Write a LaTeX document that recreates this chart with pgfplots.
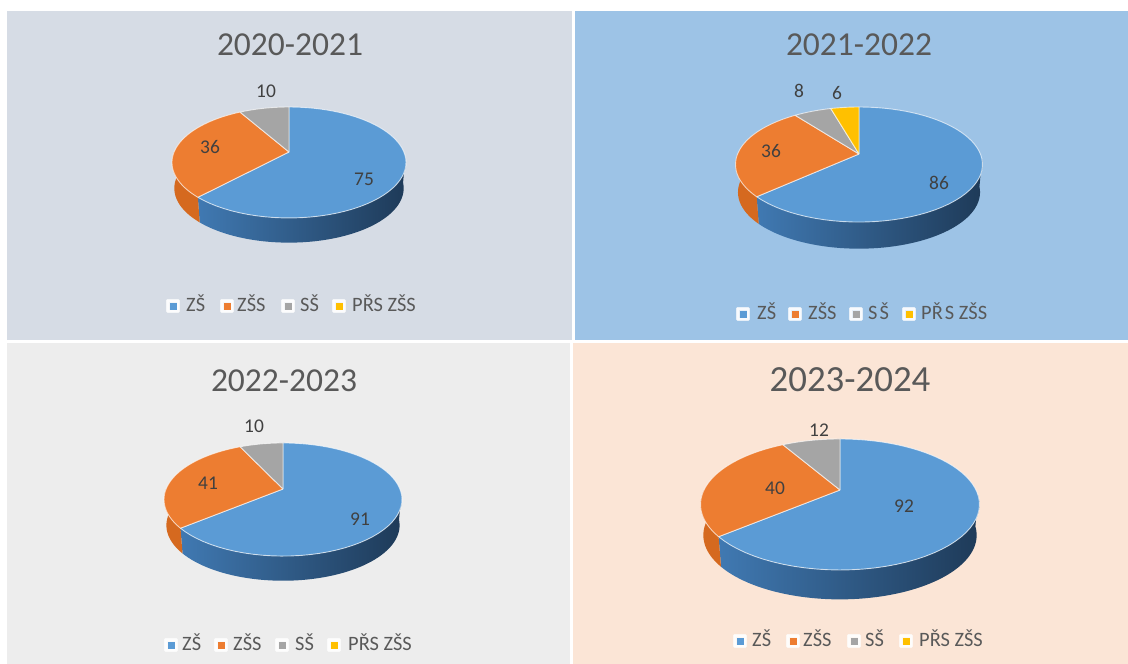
\documentclass[border=0pt]{standalone}
\usepackage{pgfplots}
\pgfplotsset{compat=1.18}
\usepackage{fontspec}
\setmainfont{Carlito}
\definecolor{tileA}{HTML}{D6DCE5}
\definecolor{tileB}{HTML}{9DC3E6}
\definecolor{tileC}{HTML}{EDEDED}
\definecolor{tileD}{HTML}{FBE5D6}
\definecolor{cblue}{HTML}{5B9BD5}
\definecolor{corange}{HTML}{ED7D31}
\definecolor{cgray}{HTML}{A5A5A5}
\definecolor{cyellow}{HTML}{FFC000}
\definecolor{rimL}{HTML}{4079B2}
\definecolor{rimM}{HTML}{2F5E8E}
\definecolor{rimR}{HTML}{1E3A58}
\definecolor{rimO}{HTML}{D5691F}
\definecolor{txtT}{HTML}{595959}
\definecolor{txtL}{HTML}{404040}
\let\myt\relax
% #1 colour, #2 start angle, #3 end angle
\newcommand{\slice}[3]{%
  \edef\ang{(#2+(#3-#2)/60*\myt)}%
  \edef\tmp{\noexpand\addplot[fill=#1,draw=white,draw opacity=0.65,line width=0.9bp,line join=round,
    variable=\myt,samples at={-1000,0,1,...,60,-1000}]
    ({\pcx+(\myt>-500)*\pA*sin(\ang)/(1+\pk*cos(\ang))},
     {\pcy-(\myt>-500)*\pB*cos(\ang)/(1+\pk*cos(\ang))});}%
  \tmp}
% #1 shading options, #2 start angle, #3 end angle
\newcommand{\rim}[3]{%
  \edef\ang{(#2+(#3-#2)/60*(\myt-1000*(\myt>=500)))}%
  \edef\fac{(1-0.02*(\myt>=500))}%
  \edef\tmp{\noexpand\addplot[draw=none,#1,
    variable=\myt,samples at={0,1,...,60,1060,1059,...,1000}]
    ({\pcx+\fac*\pA*sin(\ang)/(1+\pk*cos(\ang))},
     {\pcy-\fac*\pB*cos(\ang)/(1+\pk*cos(\ang))+(\myt>=500)*\pd});}%
  \tmp}
% cx, apex y, A, B, k, depth
\newcommand{\pgeom}[6]{\edef\pcx{#1}\edef\pcy{#2}\edef\pA{#3}\edef\pB{#4}\edef\pk{#5}\edef\pd{#6}}
% the four values
\newcommand{\threedpie}[4]{%
  \pgfmathsetmacro{\tot}{#1+#2+#3+#4}%
  \pgfmathsetmacro{\angA}{360/\tot*#1}%
  \pgfmathsetmacro{\angB}{360/\tot*(#1+#2)}%
  \pgfmathsetmacro{\angC}{360/\tot*(#1+#2+#3)}%
  \rim{left color=rimL,middle color=rimM,right color=rimR}{95}{\angA}%
  \rim{fill=rimO}{\angA}{270}%
  \slice{cblue}{0}{\angA}%
  \slice{corange}{\angA}{\angB}%
  \slice{cgray}{\angB}{\angC}%
  \ifdim #4pt>0pt \slice{cyellow}{\angC}{360}\fi
}
\newcommand{\legmark}[3]{%
  \addplot[only marks,mark=square*,mark size=5.6bp,mark options={fill=white,draw=white,opacity=0.75,line width=2.4bp,line join=round}] coordinates {(#1,#2)};
  \addplot[only marks,mark=square*,mark size=3.3bp,mark options={fill=#3,draw=#3,line width=0.2bp}] coordinates {(#1,#2)};
}
\newcommand{\legtxt}[3]{\node[anchor=mid west,inner sep=0pt,yshift=-3bp,text=txtT,font=\fontsize{20.5}{20.5}\selectfont] at (axis cs:#1,#2) {#3};}
\newcommand{\val}[3]{\node[text=txtL,inner sep=0pt,font=\fontsize{19.5}{19.5}\selectfont] at (axis cs:#1,#2) {#3};}
\newcommand{\ttl}[4]{\node[text=txtT,inner sep=0pt,font=\fontsize{#3}{#3}\selectfont] at (axis cs:#1,#2) {#4};}
\begin{document}
\begin{tikzpicture}
\begin{axis}[scale only axis,width=1128bp,height=664bp,xmin=0,xmax=1128,ymin=0,ymax=664,y dir=reverse,hide axis,clip=true]
\fill[white] (axis cs:0,0) rectangle (axis cs:1128,664);
\fill[tileA] (axis cs:7,11) rectangle (axis cs:572,340);
\fill[tileB] (axis cs:575,11) rectangle (axis cs:1128,340);
\fill[tileC] (axis cs:7,343) rectangle (axis cs:570,664);
\fill[tileD] (axis cs:573,343) rectangle (axis cs:1128,664);

\pgeom{289}{152}{114.9}{53.5}{0.189}{26}
\threedpie{75}{36}{10}{0}
\pgeom{859}{154}{121.4}{55.6}{0.183}{28}
\threedpie{86}{36}{8}{6}
\pgeom{283}{489}{116.9}{54.6}{0.186}{26}
\threedpie{91}{41}{10}{0}
\pgeom{840}{490}{136}{62.3}{0.221}{31}
\threedpie{92}{40}{12}{0}

\ttl{290}{45}{33.6}{2020-2021}
\ttl{859}{45}{33.6}{2021-2022}
\ttl{284}{381}{33.6}{2022-2023}
\ttl{850}{380}{37}{2023-2024}

\val{266}{91}{10}\val{210}{147}{36}\val{364}{179}{75}
\val{799}{91}{8}\val{837}{93}{6}\val{771}{151}{36}\val{939}{183}{86}
\val{254}{426}{10}\val{208}{483}{41}\val{360}{519}{91}
\val{819}{430}{12}\val{775}{488}{40}\val{904}{506}{92}

\legmark{173}{306}{cblue}\legmark{227}{306}{corange}\legmark{288}{306}{cgray}\legmark{339}{306}{cyellow}
\legtxt{186}{306}{ZŠ}\legtxt{237}{306}{ZŠS}\legtxt{300}{306}{SŠ}\legtxt{352}{306}{PŘS ZŠS}
\legmark{743}{314}{cblue}\legmark{795}{314}{corange}\legmark{856}{314}{cgray}\legmark{909}{314}{cyellow}
\legtxt{757}{314}{ZŠ}\legtxt{808}{314}{ZŠS}\legtxt{868}{314}{S\hspace{0.1em}Š}\legtxt{921}{314}{PŘ\hspace{0.1em}S ZŠS}
\legmark{171}{645}{cblue}\legmark{221}{645}{corange}\legmark{282}{645}{cgray}\legmark{334}{645}{cyellow}
\legtxt{182}{645}{ZŠ}\legtxt{233}{645}{ZŠS}\legtxt{295}{645}{SŠ}\legtxt{348}{645}{PŘS ZŠS}
\legmark{740}{641}{cblue}\legmark{793}{641}{corange}\legmark{854}{641}{cgray}\legmark{906}{641}{cyellow}
\legtxt{752}{641}{ZŠ}\legtxt{803}{641}{ZŠS}\legtxt{865}{641}{SŠ}\legtxt{919}{641}{PŘS ZŠS}
\end{axis}
\end{tikzpicture}
\end{document}
